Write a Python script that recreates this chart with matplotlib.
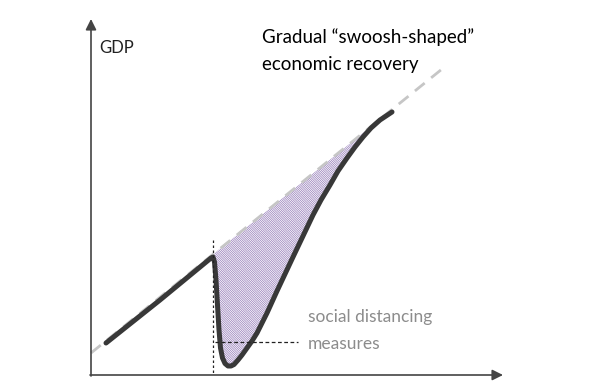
import matplotlib
matplotlib.use("Agg")
import matplotlib.pyplot as plt
import numpy as np

# coordinates (pixel space, y grows downwards)
curve_x = [106, 160, 211, 213, 214.5, 216, 217.5, 219, 220.5, 222.5, 225,
           228, 231, 234, 238, 242, 247, 252, 257, 262, 267, 272, 277, 285,
           293, 303, 313, 321, 330, 338, 347, 355, 363, 371, 380, 386, 392]
curve_y = [343, 300, 258, 257, 262, 280, 305, 330, 348, 358, 363.5,
           366, 366, 364.5, 360, 355, 348, 341, 333, 323, 313, 302, 291, 274,
           257, 236, 215, 200, 185, 171, 158, 147, 137, 128, 120, 116, 112]

trend_x = [91, 447]
trend_y = [353, 65]

shock_x = 213          # start of social distancing measures
shade_end = 380

title_lines = ["Gradual \u201cswoosh-shaped\u201d", "economic recovery"]
note_lines = ["social distancing", "measures"]
y_label = "GDP"

plt.rcParams["font.family"] = ["Lato", "DejaVu Sans"]
plt.rcParams["hatch.linewidth"] = 0.55

fig = plt.figure(figsize=(6, 3.89), dpi=100)
ax = fig.add_axes([0, 0, 1, 1])
ax.set_xlim(0, 600)
ax.set_ylim(389, 0)
ax.axis("off")

# axes with arrow heads
arrow = dict(arrowstyle="-|>", color="#444444", lw=1.2, mutation_scale=16,
             shrinkA=0, shrinkB=0)
ax.annotate("", xy=(91, 19), xytext=(91, 376), arrowprops=arrow)
ax.annotate("", xy=(503, 375), xytext=(90, 375), arrowprops=arrow)

# pre-crisis trend
ax.plot(trend_x, trend_y, color="#c6c6c6", lw=2.0, dashes=(4.5, 3),
        solid_capstyle="butt", zorder=2)

# shaded lost output between trend and actual path
cx = np.array(curve_x, dtype=float)
cy = np.array(curve_y, dtype=float)
ty = np.interp(cx, trend_x, trend_y)
mask = (cx >= shock_x) & (cx <= shade_end)
ax.fill_between(cx, ty, cy, where=mask, facecolor="none",
                edgecolor="#9a82bc", linewidth=0, hatch="\\" * 15, zorder=1)

# actual GDP path
ax.plot(curve_x, curve_y, color="#383838", lw=3.6, solid_joinstyle="round",
        solid_capstyle="round", zorder=3)

# markers for the social distancing measures
ax.plot([shock_x, shock_x], [240, 374], color="#222222", lw=0.9,
        dashes=(2, 2), zorder=4)
ax.plot([shock_x + 2, 298], [342, 342], color="#222222", lw=0.9,
        dashes=(3, 2), zorder=4)

ax.text(308, 322, note_lines[0], fontsize=12.5, color="#8c8c8c", va="baseline")
ax.text(308, 349, note_lines[1], fontsize=12.5, color="#8c8c8c", va="baseline")

ax.text(262, 43, title_lines[0], fontsize=13.5, color="#000000", va="baseline")
ax.text(262, 70, title_lines[1], fontsize=13.5, color="#000000", va="baseline")

ax.text(99, 53, y_label, fontsize=12, color="#222222", va="baseline")

fig.savefig("out.png", dpi=100)
